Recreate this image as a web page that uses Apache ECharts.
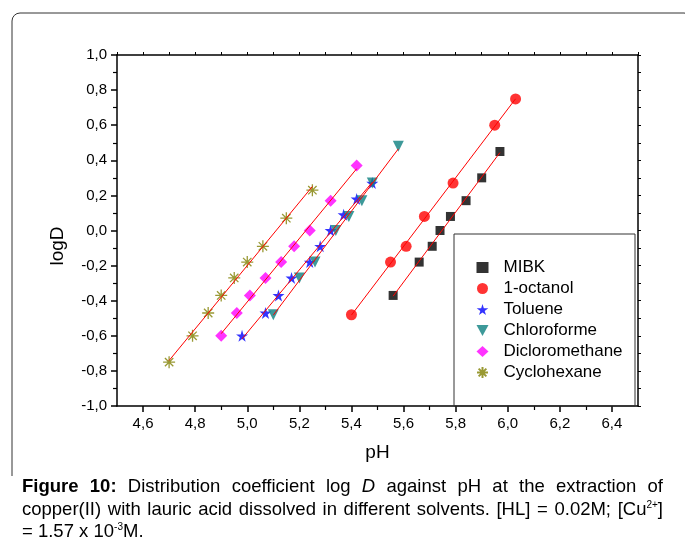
<!DOCTYPE html>
<html lang="en">
<head>
<meta charset="UTF-8">
<title>logD vs pH</title>
<script src="https://cdn.jsdelivr.net/npm/echarts@6.0.0/dist/echarts.min.js"></script>
<style>
    *{margin:0;padding:0;}
    body{background:#fff;overflow:hidden;}
    #main{width:685px;height:544px;}
    .caption{position:absolute;left:22px;top:475px;width:641px;font:18.5px/22.5px "Liberation Sans",Arial,sans-serif;color:#000;}
    .caption div{text-align:justify;text-align-last:justify;white-space:nowrap;}
    .caption div.last{text-align-last:left;}
    .caption sup{font-size:10px;line-height:0;vertical-align:7px;}
</style>
</head>
<body>
<div id="main"></div>
<div class="caption">
    <div><b>Figure 10:</b> Distribution coefficient log <i>D</i> against pH at the extraction of</div>
    <div>copper(II) with lauric acid dissolved in different solvents. [HL] = 0.02M; [Cu<sup>2+</sup>]</div>
    <div class="last">= 1.57 x 10<sup>-3</sup>M.</div>
</div>
<script>
    // values
    var mibkPH = [5.56, 5.66, 5.71, 5.74, 5.78, 5.84, 5.90, 5.97];
    var mibkLogD = [-0.37, -0.18, -0.09, 0.00, 0.08, 0.17, 0.30, 0.45];
    var octanolPH = [5.40, 5.55, 5.61, 5.68, 5.79, 5.95, 6.03];
    var octanolLogD = [-0.48, -0.18, -0.09, 0.08, 0.27, 0.60, 0.75];
    var toluenePH = [4.98, 5.07, 5.12, 5.17, 5.24, 5.28, 5.32, 5.37, 5.42, 5.48];
    var tolueneLogD = [-0.60, -0.47, -0.37, -0.27, -0.18, -0.09, 0.00, 0.09, 0.18, 0.27];
    var chloroPH = [5.10, 5.20, 5.26, 5.34, 5.39, 5.44, 5.48, 5.58];
    var chloroLogD = [-0.48, -0.27, -0.18, 0.00, 0.08, 0.17, 0.27, 0.48];
    var dcmPH = [4.90, 4.96, 5.01, 5.07, 5.13, 5.18, 5.24, 5.32, 5.42];
    var dcmLogD = [-0.60, -0.47, -0.37, -0.27, -0.18, -0.09, 0.00, 0.17, 0.37];
    var cycloPH = [4.70, 4.79, 4.85, 4.90, 4.95, 5.00, 5.06, 5.15, 5.25];
    var cycloLogD = [-0.75, -0.60, -0.47, -0.37, -0.27, -0.18, -0.09, 0.07, 0.23];

    // tick labels
    var xTicks = [4.6, 4.8, 5.0, 5.2, 5.4, 5.6, 5.8, 6.0, 6.2, 6.4];
    var xMinorTicks = [4.7, 4.9, 5.1, 5.3, 5.5, 5.7, 5.9, 6.1, 6.3];

    var FONT = '"Liberation Sans", Arial, sans-serif';
    var starPath = 'path://M50,0 L61,35 L98,35 L68,57 L79,91 L50,70 L21,91 L32,57 L2,35 L39,35 Z';
    var downTri = 'path://M0,0 L10,0 L5,9 Z';
    var asterisk = 'path://M5,0 L5,10 M0,5 L10,5 M1.5,1.5 L8.5,8.5 M8.5,1.5 L1.5,8.5';

    var solvents = [
        {name: 'MIBK', x: mibkPH, y: mibkLogD, symbol: 'rect', size: 9, color: '#000000'},
        {name: '1-octanol', x: octanolPH, y: octanolLogD, symbol: 'circle', size: 11, color: '#ff0000'},
        {name: 'Toluene', x: toluenePH, y: tolueneLogD, symbol: starPath, size: 12, color: '#0000ff'},
        {name: 'Chloroforme', x: chloroPH, y: chloroLogD, symbol: downTri, size: 11, color: '#0d7f7f'},
        {name: 'Dicloromethane', x: dcmPH, y: dcmLogD, symbol: 'diamond', size: 12, color: '#ff00ff'},
        {name: 'Cyclohexane', x: cycloPH, y: cycloLogD, symbol: asterisk, size: 12, color: '#808000', stroke: true}
    ];

    function fmt(v) {
        if (Math.abs(v) < 1e-9) v = 0;
        return v.toFixed(1).replace('.', ',');
    }

    // least squares line, from first to last pH
    function fitLine(xs, ys) {
        var n = xs.length, sx = 0, sy = 0, sxx = 0, sxy = 0;
        for (var i = 0; i < n; i++) {
            sx += xs[i]; sy += ys[i]; sxx += xs[i] * xs[i]; sxy += xs[i] * ys[i];
        }
        var k = (n * sxy - sx * sy) / (n * sxx - sx * sx);
        var b = (sy - k * sx) / n;
        var x0 = Math.min.apply(null, xs), x1 = Math.max.apply(null, xs);
        return [[x0, k * x0 + b], [x1, k * x1 + b]];
    }

    var series = [];
    solvents.forEach(function (s) {
        series.push({
            name: s.name,
            type: 'scatter',
            symbol: s.symbol,
            symbolSize: s.size,
            z: 2,
            itemStyle: s.stroke
                ? {color: 'rgba(0,0,0,0)', borderColor: s.color, borderWidth: 1.3}
                : {color: s.color},
            data: s.x.map(function (v, i) { return [v, s.y[i]]; })
        });
    });
    solvents.forEach(function (s) {
        series.push({
            type: 'line',
            z: 3,
            symbol: 'none',
            silent: true,
            lineStyle: {color: '#ff0000', width: 1},
            data: fitLine(s.x, s.y)
        });
    });

    var myChart = echarts.init(document.getElementById('main'));
    var option = {
        animation: false,
        backgroundColor: '#fff',
        textStyle: {fontFamily: FONT},
        grid: {left: 117, right: 47, top: 55, bottom: 138},
        legend: {
            orient: 'vertical',
            left: 471,
            top: 254,
            itemWidth: 12,
            itemHeight: 11,
            itemGap: 4,
            textStyle: {fontSize: 17, color: '#000', fontFamily: FONT, padding: [0, 0, 0, 10]},
            data: solvents.map(function (s) { return s.name; })
        },
        xAxis: [
            {
                type: 'value', min: 4.5, max: 6.5, position: 'bottom',
                name: 'pH', nameLocation: 'middle', nameGap: 37,
                nameTextStyle: {fontSize: 19, color: '#000', fontFamily: FONT},
                axisLine: {onZero: false, lineStyle: {color: '#000', width: 1.5}},
                axisTick: {customValues: xTicks, length: 6, lineStyle: {color: '#000', width: 1.5}},
                axisLabel: {customValues: xTicks, formatter: fmt, fontSize: 15, color: '#000', margin: 10},
                splitLine: {show: false}
            },
            {
                type: 'value', min: 4.5, max: 6.5, position: 'bottom',
                axisLine: {show: false, onZero: false},
                axisTick: {customValues: xMinorTicks, length: 4, lineStyle: {color: '#000', width: 1.2}},
                axisLabel: {show: false},
                splitLine: {show: false}
            },
            {
                type: 'value', min: 4.5, max: 6.5, interval: 0.1, position: 'top',
                axisLine: {onZero: false, lineStyle: {color: '#000', width: 1.5}},
                axisTick: {length: 3, lineStyle: {color: '#000', width: 1}},
                axisLabel: {show: false},
                splitLine: {show: false}
            }
        ],
        yAxis: [
            {
                type: 'value', min: -1, max: 1, interval: 0.2,
                axisLine: {onZero: false, lineStyle: {color: '#000', width: 1.5}},
                axisTick: {length: 6, lineStyle: {color: '#000', width: 1.5}},
                minorTick: {show: true, splitNumber: 2, length: 4, lineStyle: {color: '#000', width: 1.2}},
                axisLabel: {formatter: fmt, fontSize: 15, color: '#000', margin: 10},
                splitLine: {show: false},
                minorSplitLine: {show: false}
            },
            {
                type: 'value', min: -1, max: 1, interval: 0.1, position: 'right',
                axisLine: {onZero: false, lineStyle: {color: '#000', width: 1.5}},
                axisTick: {length: 3, lineStyle: {color: '#000', width: 1}},
                axisLabel: {show: false},
                splitLine: {show: false}
            }
        ],
        graphic: [
            {
                type: 'rect', z: -1,
                shape: {x: 12, y: 13, width: 680, height: 600, r: 8},
                style: {fill: 'none', stroke: '#333', lineWidth: 1}
            },
            {
                type: 'rect', z: -1,
                shape: {x: 0, y: 476, width: 685, height: 80},
                style: {fill: '#fff'}
            },
            {
                type: 'rect', z: 1,
                shape: {x: 454, y: 234, width: 181, height: 172},
                style: {fill: 'none', stroke: '#333', lineWidth: 1}
            },
            {
                type: 'text', x: 58, y: 246, rotation: Math.PI / 2,
                style: {text: 'logD', font: '19px ' + FONT, fill: '#000', align: 'center', verticalAlign: 'middle'}
            }
        ],
        series: series
    };
    myChart.setOption(option);
</script>
</body>
</html>
